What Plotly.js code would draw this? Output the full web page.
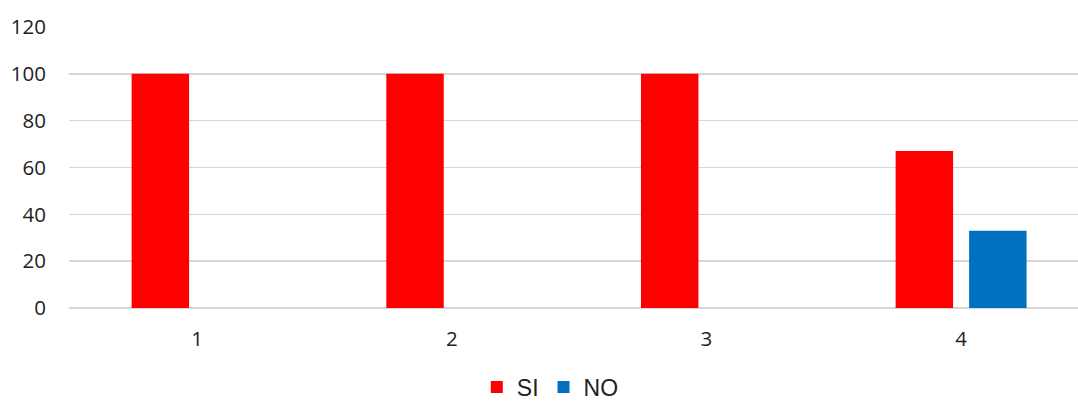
<!DOCTYPE html>
<html>
<head>
<meta charset="utf-8">
<script src="https://cdn.plot.ly/plotly-3.0.1.min.js"></script>
<style>html,body{margin:0;padding:0;background:#fff;}#chart{width:1078px;height:403px;}</style>
</head>
<body>
<div id="chart"></div>
<script>
var categories = ["1", "2", "3", "4"];
var siValues = [100, 100, 100, 67];
var noValues = [0, 0, 0, 33];
var yTicks = [0, 20, 40, 60, 80, 100, 120];

var traces = [
  {type: 'bar', name: 'SI', x: categories, y: siValues, marker: {color: '#FF0000'}, hoverinfo: 'none'},
  {type: 'bar', name: 'NO', x: categories, y: noValues, marker: {color: '#0070C0'}, hoverinfo: 'none'}
];

var layout = {
  width: 1078, height: 403,
  margin: {l: 69, r: 0, t: 27, b: 95, autoexpand: false},
  paper_bgcolor: '#fff', plot_bgcolor: '#fff',
  barmode: 'group', bargap: 0.423, bargroupgap: 0.218,
  font: {family: 'Open Sans, sans-serif', color: '#333'},
  xaxis: {
    type: 'category', range: [-0.503, 3.459],
    showgrid: false, zeroline: false, showline: false, ticks: '',
    tickfont: {size: 20.5, family: 'Open Sans, sans-serif', color: '#222'},
    ticklabelstandoff: 16
  },
  yaxis: {
    range: [0, 120], tickvals: yTicks, ticktext: yTicks.map(String),
    showgrid: true, gridcolor: '#d6d6d6', gridwidth: 1.6,
    zeroline: true, zerolinecolor: '#d6d6d6', zerolinewidth: 1.6,
    showline: false, ticks: '',
    tickfont: {size: 20.5, family: 'Open Sans, sans-serif', color: '#222'},
    ticklabelstandoff: 22
  },
  showlegend: true,
  legend: {
    orientation: 'h', x: 0.477, xanchor: 'center', y: -0.358, yanchor: 'bottom',
    font: {size: 23, family: 'Liberation Sans, Arial, sans-serif', color: '#222'},
    itemwidth: 30, traceorder: 'normal', borderwidth: 0
  }
};

Plotly.newPlot('chart', traces, layout, {displayModeBar: false, staticPlot: true});
</script>
</body>
</html>
